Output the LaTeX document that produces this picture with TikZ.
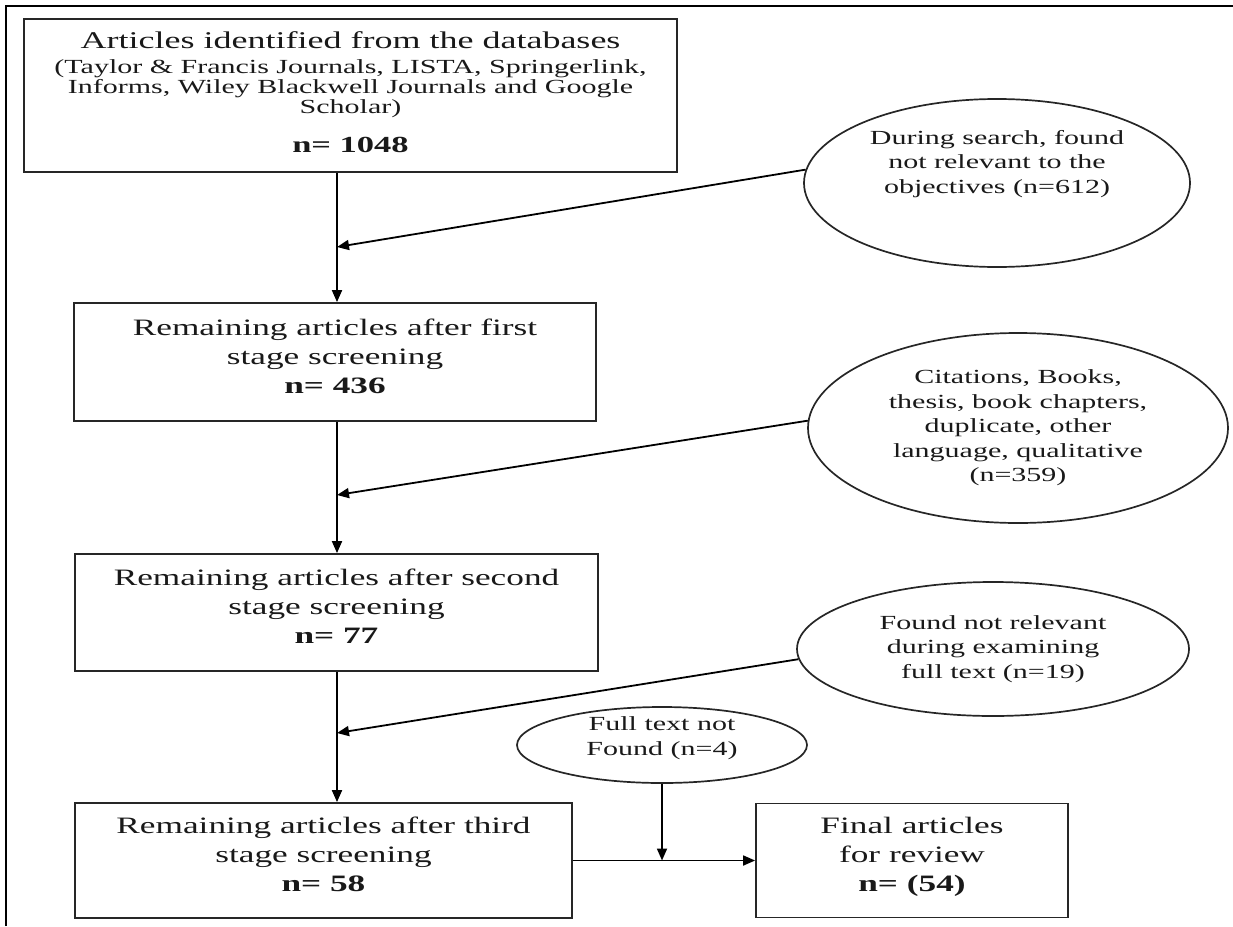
\documentclass[tikz,border=0pt]{standalone}
\usepackage{fontspec}
\setmainfont{Liberation Serif}[FakeStretch=1.5]
\usetikzlibrary{arrows.meta,shapes.geometric}

\begin{document}
\begin{tikzpicture}[x=1pt, y=-1pt,
    every node/.style={font=\fontsize{23.5}{29}\selectfont, align=center, inner sep=0pt, text=black!90},
    box/.style={draw=black!85, line width=1.8pt, text depth=12pt},
    reason/.style={ellipse, draw=black!85, line width=1.7pt, font=\fontsize{20}{24.5}\selectfont},
    arr/.style={line width=1.8pt, -{Triangle[length=12pt,width=10pt]}}]

    \useasboundingbox (0,0) rectangle (1233,926);

    % Frame (top and left only)
    \draw[line width=2.4pt] (6,926) -- (6,6) -- (1233,6);

    % Screening stages
    \node[box, minimum width=653pt, minimum height=153pt, text depth=7pt,
          font=\fontsize{20}{20}\selectfont] (box1) at (350.5,95.5)
        {{\fontsize{24}{24}\selectfont Articles identified from the databases}\\[5pt]
         (Taylor \& Francis Journals, LISTA, Springerlink,\\
         Informs, Wiley Blackwell Journals and Google\\
         Scholar)\\[19pt]
         {\fontsize{23}{23}\selectfont\bfseries n= 1048}};
    \node[box, minimum width=522pt, minimum height=118pt] (box2) at (335,362)
        {Remaining articles after first\\ stage screening\\ \textbf{n= 436}};
    \node[box, minimum width=523pt, minimum height=117pt] (box3) at (336.5,612.5)
        {Remaining articles after second\\ stage screening\\ \textbf{n= 77}};
    \node[box, minimum width=497pt, minimum height=115pt] (box4) at (323.5,860.5)
        {Remaining articles after third\\ stage screening\\ \textbf{n= 58}};
    \node[box, minimum width=312pt, minimum height=114pt] (box5) at (912,860.5)
        {Final articles\\ for review\\ \textbf{n= (54)}};

    % Excluded articles
    \node[reason, minimum width=386pt, minimum height=168pt, text height=24.5pt] (e1) at (997,183)
        {During search, found\\ not relevant to the\\ objectives (n=612)};
    \node[reason, minimum width=420pt, minimum height=190pt] (e2) at (1018,428)
        {Citations, Books,\\ thesis, book chapters,\\ duplicate, other\\ language, qualitative\\ (n=359)};
    \node[reason, minimum width=392pt, minimum height=134pt] (e3) at (993,649)
        {Found not relevant\\ during examining\\ full text (n=19)};
    \node[reason, minimum width=290pt, minimum height=76pt, text height=24.5pt] (e4) at (662,745)
        {Full text not\\ Found (n=4)};

    % Main flow
    \coordinate (spine) at (337,0);
    \coordinate (j1) at (337,247);
    \coordinate (j2) at (337,495);
    \coordinate (j3) at (337,733);
    \foreach \a/\b in {box1/box2, box2/box3, box3/box4} {
        \draw[arr] (spine |- \a.south) -- (spine |- \b.north);
    }
    \draw[arr] (box4.east) -- (box5.west);

    % Exclusions joining the flow
    \draw[arr] (e1.176) -- (j1);
    \draw[arr] (e2.178) -- (j2);
    \draw[arr] (e3.183) -- (j3);
    \draw[arr] (e4.south) -- (e4.south |- box4.east);

\end{tikzpicture}
\end{document}
